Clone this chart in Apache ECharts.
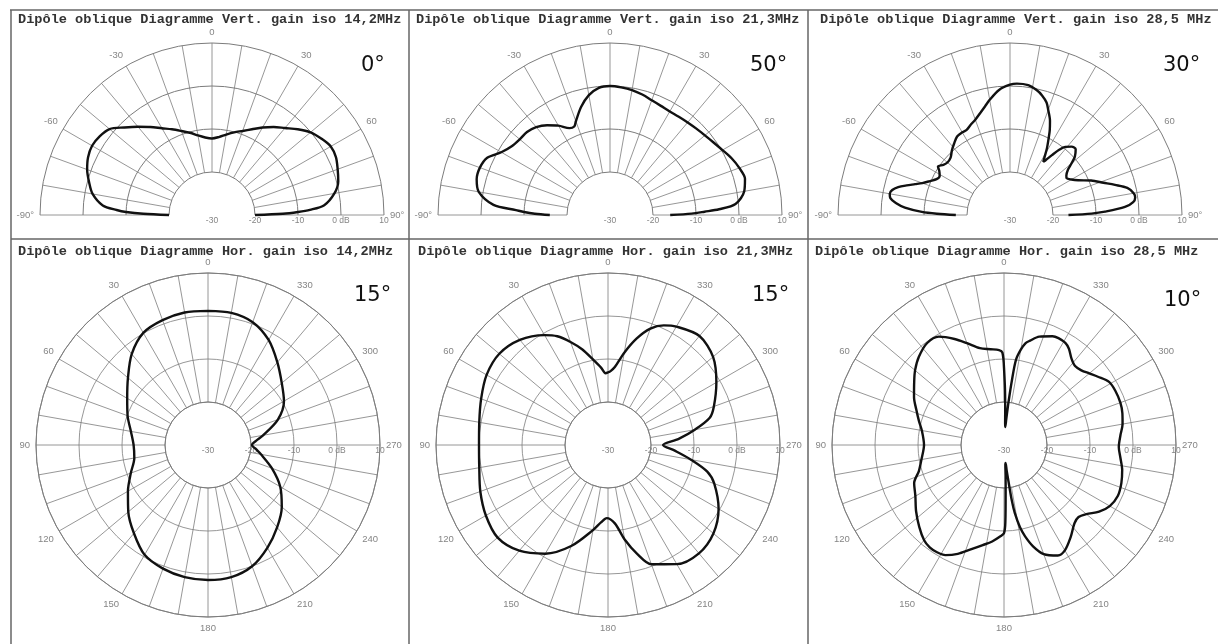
<!DOCTYPE html>
<html><head><meta charset="utf-8">
<script src="https://cdn.jsdelivr.net/npm/echarts@6/dist/echarts.min.js"></script>
<style>html,body{margin:0;padding:0;background:#fff}#c{width:1218px;height:644px}</style>
</head><body><div id="c"></div>
<script>
// ---- data ----
const titles = [
  'Dipôle oblique Diagramme Vert. gain iso 14,2MHz',
  'Dipôle oblique Diagramme Vert. gain iso 21,3MHz',
  'Dipôle oblique Diagramme Vert. gain iso 28,5 MHz',
  'Dipôle oblique Diagramme Hor. gain iso 14,2MHz',
  'Dipôle oblique Diagramme Hor. gain iso 21,3MHz',
  'Dipôle oblique Diagramme Hor. gain iso 28,5 MHz'
];
const tags = ['0°', '50°', '30°', '15°', '15°', '10°'];

const vert14Ang  = [-90,-89,-88,-87,-85,-80,-75,-70,-65,-60,-55,-50,-45,-40,-35,-30,-25,-20,-15,-10,-5,0,5,10,15,20,25,30,35,40,45,50,55,60,65,70,75,80,85,87,88,89,90];
const vert14Gain = [-20,-14,-10,-7.8,-4.5,-1.8,-0.4,0.9,1.8,2.2,1.9,1.1,-1.2,-3.2,-5.0,-6.7,-8.0,-9.2,-10.2,-11.2,-11.9,-12.2,-11.8,-11.0,-10.1,-9.2,-8.0,-6.5,-5.0,-3.6,-1.8,-0.1,1.0,1.9,1.8,1.1,0.4,-1.1,-3.8,-7.2,-10,-13.5,-20];

const vert21Ang  = [-90,-89,-88,-87,-85,-80,-75,-70,-65,-60,-55,-50,-45,-40,-35,-30,-25,-22,-20,-15,-10,-5,0,5,10,15,20,25,30,35,40,45,50,55,60,65,70,75,80,85,87,88,89,90];
const vert21Gain = [-16,-12.5,-10,-8.1,-2.8,1.0,2.1,2.2,1.5,-0.8,-2.1,-2.6,-2.7,-3.3,-4.5,-6.0,-7.7,-7.8,-6.8,-4.0,-1.7,-0.3,0,-0.2,-0.5,-1.0,-1.6,-2.0,-2.2,-2.1,-1.9,-1.6,-1.2,-0.6,0.2,1.2,2.0,2.5,1.7,-0.7,-4.6,-8,-11,-16];

const vert28Ang  = [-90,-89,-88,-86,-84,-82,-80,-78,-76,-74,-72,-70,-67,-64,-61,-58,-56,-53,-50,-46,-42,-38,-34,-30,-27,-24,-20,-16,-13,-10,-5,0,3,8,12,15,18,20,23,25,27,29,31,32,33,35,37,39,42,45,48,50,52,55,57,60,63,67,71,74,77,80,82,84,86,88,89,90];
const vert28Gain = [-17.4,-13,-9.5,-5.5,-3.3,-1.9,-1.6,-2.0,-3.2,-5.0,-6.8,-8.3,-9.8,-11.0,-11.3,-10.6,-9.8,-10.6,-11.0,-10.8,-9.8,-8.9,-8.0,-7.8,-7.8,-7.2,-6.4,-5.2,-4.1,-2.8,-0.8,0.3,0.6,0.5,-0.3,-1.2,-2.5,-4.0,-6.2,-8.1,-10.3,-12.3,-14.5,-15.4,-14.8,-13,-11,-9.6,-8.6,-8.4,-9.7,-11.3,-12.9,-14.0,-14.3,-13.5,-12.2,-9.5,-7.0,-4.6,-2.0,-0.8,-0.6,-1.2,-3.2,-7.9,-11,-16.4];

const hor14Ang  = [0,10,20,30,40,50,60,70,80,90,100,110,120,130,140,150,160,170,180,190,200,210,220,230,240,250,260,265,270,275,280,290,300,310,320,330,340,350,360];
const hor14Gain = [1.2,1.3,0.9,0.1,-2.4,-5.7,-8.3,-10.1,-11.8,-12.7,-12.6,-10.9,-8.5,-5.8,-3.2,-0.5,0.6,1.2,1.4,1.2,0.0,-2.4,-5.0,-7.6,-10.6,-14.2,-17.5,-18.8,-19.8,-18.8,-17,-12.7,-9.6,-7.6,-4.9,-1.8,0.4,1.2,1.2];

const hor21Ang  = [0,2,5,10,15,20,25,30,40,50,60,70,80,90,100,110,120,130,140,150,160,170,175,179,185,190,195,200,210,220,230,240,250,255,260,265,270,275,280,285,290,300,310,320,330,335,340,345,350,355,358,360];
const hor21Gain = [-13.1,-13.3,-12.0,-9.8,-7.0,-4.5,-2.1,-0.5,1.9,3.0,2.6,1.4,0.4,0.0,0.4,1.6,2.8,3.5,2.1,-0.8,-5.0,-9.9,-12.0,-13.0,-11.7,-7.7,-3.8,-0.5,2.0,2.9,2.0,-0.3,-3.7,-6.1,-10.4,-14.3,-17.2,-13.5,-9.5,-5.5,-3.8,-0.9,1.9,3.1,1.8,0.7,-1.2,-4.4,-8.2,-11.8,-12.8,-13.1];

const hor28Ang  = [0,1,3,8,14,20,25,31,37,44,50,55,62,68,74,80,90,100,107,113,120,127,134,140,144,148,152,157,162,168,173,178,180,181,182,183,184,185,186,187,188,189,191,193,196,200,206,210,216,222,226,230,235,240,246,252,258,264,269,275,280,285,290,296,301,306,310,314,318,322,326,329,333,336,342,346,348,350,352,353,354,355,356,357,358,359,360];
const hor28Gain = [-12,-8.5,-7.9,-7.5,-6.8,-4.8,-2.8,-0.6,-0.3,-1.5,-3.0,-4.5,-6.3,-8.0,-9.4,-10.6,-11.4,-10.5,-9.3,-7.3,-6.2,-4.4,-2.6,-1.1,-0.6,-0.6,-1.0,-2.5,-4.4,-6.2,-7.4,-8.8,-9.5,-12,-19,-23,-25.5,-25.8,-24,-21.5,-17,-14,-10.5,-8.2,-5.5,-3.0,-1.4,-1.7,-3.6,-5.5,-5.9,-5.0,-3.0,-1.6,-1.0,-1.3,-1.9,-2.8,-3.3,-2.8,-2.0,-1.5,-1.2,-1.2,-1.5,-3.0,-4.1,-5.0,-5.3,-4.5,-3.0,-2.3,-2.1,-2.3,-3.5,-5.0,-5.8,-7.5,-10,-14.7,-20,-24,-25.8,-25,-22,-17,-12];

const halfAngleLabels = [-90, -60, -30, 0, 30, 60, 90];
const fullAngleLabels = [0, 30, 60, 90, 120, 150, 180, 210, 240, 270, 300, 330];
const ringValues = [-30, -20, -10, 0, 10];
const gainMin = -30, gainMax = 10, gridInner = -20;

// ---- layout ----
const R = 172;
const rOf = v => (v - gainMin) / (gainMax - gainMin) * R;
const panels = [
  {half:true,  cx:212,  cy:215, tx:18,  ty:13,  gx:361,  gy:55,  ang:vert14Ang, gain:vert14Gain},
  {half:true,  cx:610,  cy:215, tx:416, ty:13,  gx:750,  gy:55,  ang:vert21Ang, gain:vert21Gain},
  {half:true,  cx:1010, cy:215, tx:820, ty:13,  gx:1163, gy:55,  ang:vert28Ang, gain:vert28Gain},
  {half:false, cx:208,  cy:445, tx:18,  ty:245, gx:354,  gy:285, ang:hor14Ang, gain:hor14Gain},
  {half:false, cx:608,  cy:445, tx:418, ty:245, gx:752,  gy:285, ang:hor21Ang, gain:hor21Gain},
  {half:false, cx:1004, cy:445, tx:815, ty:245, gx:1164, gy:290, ang:hor28Ang, gain:hor28Gain}
];

const gridColor = '#7c7c7c', labColor = '#858585';
const polar = [], angleAxis = [], radiusAxis = [], series = [], title = [];
const hidden = () => ({axisLine:{show:false}, axisTick:{show:false}, axisLabel:{show:false}, splitLine:{show:false}});
const labelStyle = {margin: 6, color: labColor, fontSize: 9.5, fontFamily: 'Liberation Sans'};

panels.forEach((p, i) => {
  title.push({text: titles[i], left: p.tx, top: p.ty, padding: 0,
    textStyle: {fontFamily: 'Liberation Mono', fontSize: 13.6, fontWeight: 'bold', color: '#333'}});
  title.push({text: tags[i], left: p.gx, top: p.gy, padding: 0,
    textStyle: {fontFamily: 'DejaVu Sans', fontSize: 21, fontWeight: 'normal', color: '#111'}});

  // grid polar: spokes between the -20 ring and the outer ring, angle labels
  const g = polar.length;
  polar.push({center: [p.cx, p.cy], radius: [rOf(gridInner), R]});
  if (p.half) {
    angleAxis.push({polarIndex: g, type: 'value', min: -90, max: 90, interval: 10,
      startAngle: 180, endAngle: 0, clockwise: true,
      axisLine: {show: false}, axisTick: {show: false},
      axisLabel: Object.assign({}, labelStyle, {formatter: v => halfAngleLabels.includes(v) ? (Math.abs(v) === 90 ? v + '°' : String(v)) : ''}),
      splitLine: {lineStyle: {color: gridColor, width: 0.8}}});
    radiusAxis.push(Object.assign({polarIndex: g, type: 'value', min: gridInner, max: gainMax}, hidden()));
    // rings as arcs (one polar per ring so that the arc follows the half extent)
    ringValues.filter(v => v >= gridInner).forEach(v => {
      const k = polar.length;
      polar.push({center: [p.cx, p.cy], radius: [0, rOf(v)]});
      angleAxis.push({polarIndex: k, type: 'value', min: -90, max: 90, startAngle: 180, endAngle: 0, clockwise: true,
        axisLine: {show: true, lineStyle: {color: gridColor, width: 1}},
        axisTick: {show: false}, axisLabel: {show: false}, splitLine: {show: false}});
      radiusAxis.push(Object.assign({polarIndex: k, type: 'value', min: gainMin, max: v}, hidden()));
    });
  } else {
    angleAxis.push({polarIndex: g, type: 'value', min: 0, max: 360, interval: 10,
      startAngle: 90, clockwise: false,
      axisLine: {lineStyle: {color: gridColor, width: 1}}, axisTick: {show: false},
      axisLabel: Object.assign({}, labelStyle, {formatter: v => fullAngleLabels.includes(v) ? String(v) : ''}),
      splitLine: {lineStyle: {color: gridColor, width: 0.8}}});
    radiusAxis.push({polarIndex: g, type: 'value', min: gridInner, max: gainMax, interval: 10,
      axisLine: {show: false}, axisTick: {show: false}, axisLabel: {show: false},
      splitLine: {lineStyle: {color: gridColor, width: 0.8}}});
  }

  // data polar
  const d = polar.length;
  polar.push({center: [p.cx, p.cy], radius: [0, R]});
  if (p.half) {
    angleAxis.push(Object.assign({polarIndex: d, type: 'value', min: -180, max: 180, startAngle: 270, clockwise: true}, hidden()));
  } else {
    angleAxis.push(Object.assign({polarIndex: d, type: 'value', min: 0, max: 360, startAngle: 90, clockwise: false}, hidden()));
  }
  radiusAxis.push(Object.assign({polarIndex: d, type: 'value', min: gainMin, max: gainMax}, hidden()));

  // ring label polar (radius axis drawn along the right horizontal)
  const l = polar.length;
  polar.push({center: [p.cx, p.cy], radius: [0, R]});
  angleAxis.push(Object.assign({polarIndex: l, type: 'value', min: 0, max: 360, startAngle: 0, clockwise: false}, hidden()));
  radiusAxis.push({polarIndex: l, type: 'value', min: gainMin, max: gainMax, interval: 10,
    axisLine: {show: false}, axisTick: {show: false}, splitLine: {show: false},
    axisLabel: {color: labColor, fontSize: 8.5, fontFamily: 'Liberation Sans', margin: -6, verticalAlign: 'middle',
      formatter: v => ringValues.includes(v) ? (v === 0 ? '0 dB' : String(v)) : ''}});

  series.push({type: 'line', coordinateSystem: 'polar', polarIndex: d,
    data: p.ang.map((a, k) => [p.gain[k], a]),
    showSymbol: false, smooth: 0.3, silent: true, z: 5,
    lineStyle: {color: '#111', width: 2.4}});
});

const borderStyle = {stroke: '#666', lineWidth: 1.5};
const graphic = [
  {type: 'line', shape: {x1: 10, y1: 10, x2: 1218, y2: 10}, style: borderStyle},
  {type: 'line', shape: {x1: 11, y1: 10, x2: 11, y2: 644}, style: borderStyle},
  {type: 'line', shape: {x1: 409, y1: 10, x2: 409, y2: 644}, style: borderStyle},
  {type: 'line', shape: {x1: 808, y1: 10, x2: 808, y2: 644}, style: borderStyle},
  {type: 'line', shape: {x1: 11, y1: 239, x2: 1218, y2: 239}, style: borderStyle}
];

const chart = echarts.init(document.getElementById('c'), null, {renderer: 'canvas'});
chart.setOption({
  backgroundColor: '#fff', animation: false,
  title, polar, angleAxis, radiusAxis, series, graphic
});
</script></body></html>
